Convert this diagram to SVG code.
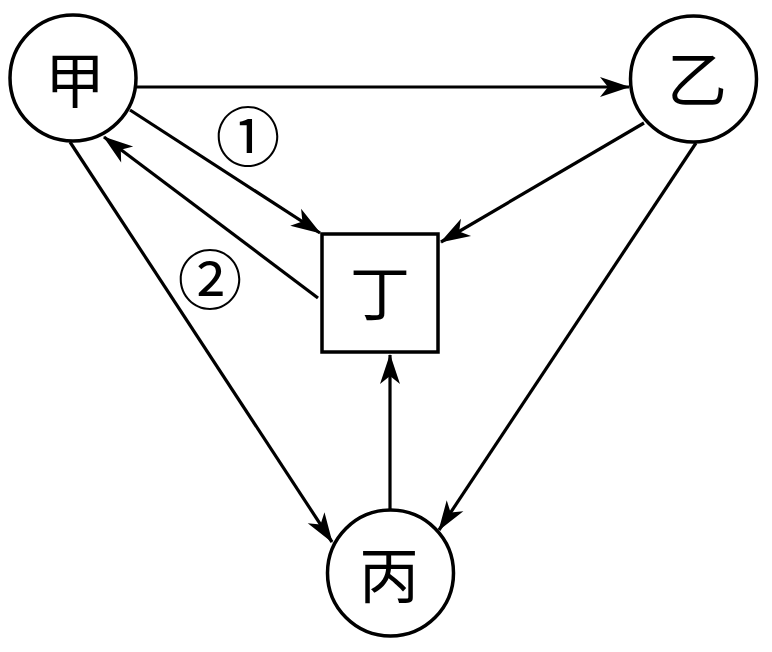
<svg xmlns="http://www.w3.org/2000/svg" width="772" height="652" viewBox="0 0 772 652">
<defs>
<marker id="arr" viewBox="-31 -11 33 22" refX="0" refY="0" markerWidth="33" markerHeight="22" markerUnits="userSpaceOnUse" orient="auto">
<path d="M1,0 L-29,-10 L-21,0 L-29,10 Z" fill="#000"/>
</marker>
<style>
.node{fill:#fff;stroke:#000;stroke-width:3.5}
.lbl{font-family:"Noto Sans CJK SC","Noto Sans CJK JP",sans-serif;font-size:60px;fill:#000;text-anchor:middle}
.num{font-family:"Noto Sans CJK SC","Noto Sans CJK JP",sans-serif;font-size:65px;fill:#000;text-anchor:middle}
.edge{stroke:#000;stroke-width:3.2;fill:none;marker-end:url(#arr)}
</style>
</defs>
<rect width="772" height="652" fill="#fff"/>
<g id="connectors">
<line class="edge" x1="137" y1="87" x2="629" y2="87"/>
<line class="edge" x1="130" y1="110" x2="320" y2="233"/>
<line class="edge" x1="318" y1="298" x2="104" y2="137"/>
<line class="edge" x1="644" y1="123" x2="441" y2="242"/>
<line class="edge" x1="696" y1="143" x2="439" y2="530"/>
<line class="edge" x1="70" y1="142" x2="332" y2="542"/>
<line class="edge" x1="390" y1="509" x2="390" y2="355"/>
</g>
<g id="node-jia">
<circle class="node" cx="73" cy="78" r="63"/>
<text class="lbl" x="75" y="103">甲</text>
</g>
<g id="node-yi">
<circle class="node" cx="693.5" cy="79" r="63"/>
<text class="lbl" x="697" y="102">乙</text>
</g>
<g id="node-ding">
<rect class="node" x="322" y="234" width="116" height="118"/>
<text class="lbl" x="380" y="316">丁</text>
</g>
<g id="node-bing">
<circle class="node" cx="390.5" cy="573" r="63"/>
<text class="lbl" x="389" y="598">丙</text>
</g>
<g id="labels">
<text class="num" x="248" y="161">①</text>
<text class="num" x="210" y="304">②</text>
</g>
</svg>
